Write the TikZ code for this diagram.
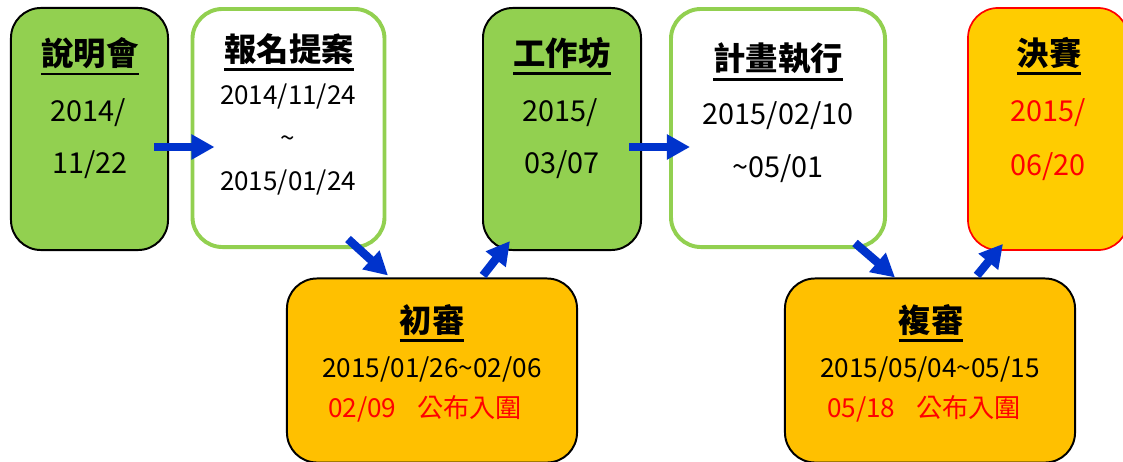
\documentclass[tikz,border=0pt]{standalone}
\usepackage{fontspec}
\setmainfont{Noto Sans CJK TC}
\usetikzlibrary{arrows.meta}
\definecolor{boxgreen}{HTML}{92D050}
\definecolor{boxorange}{HTML}{FFC000}
\definecolor{boxyellow}{HTML}{FFCC00}
\definecolor{arrowblue}{HTML}{0033CC}
\newcommand\heading[1]{\vtop{\hbox{\bfseries #1}\kern3pt\hrule height 2pt}}

\tikzset{
  stagebox/.style={rounded corners=0.75cm, inner sep=0pt, minimum height=6.05cm},
  greenbox/.style={stagebox, draw=black, line width=1.4pt, fill=boxgreen},
  whitebox/.style={stagebox, draw=boxgreen, line width=2.8pt, fill=white, minimum height=5.95cm},
  finalbox/.style={stagebox, draw=red, line width=1.2pt, fill=boxyellow},
  reviewbox/.style={rounded corners=0.75cm, inner sep=0pt, draw=black, line width=1.4pt,
    fill=boxorange, minimum width=7.25cm, minimum height=4.6cm},
  flow/.style={-{Triangle[length=0.58cm,width=0.6cm]}, draw=arrowblue, line width=0.21cm},
  title/.style={anchor=base, inner sep=0pt, font=\fontsize{23}{27}\selectfont},
  datebig/.style={anchor=base, inner sep=0pt, font=\fontsize{20.5}{24}\selectfont},
  datesmall/.style={anchor=base, inner sep=0pt, font=\fontsize{18.5}{22}\selectfont},
  datewide/.style={anchor=base, inner sep=0pt, font=\fontsize{18.6}{22}\selectfont}
}

\begin{document}
\begin{tikzpicture}[x=0.025cm,y=-0.025cm]
\useasboundingbox (0,0) rectangle (1123,461);

\node [greenbox, minimum width=3.925cm] (briefing) at (89.5,129) {};
\node [whitebox, minimum width=4.8cm] (signup) at (288.5,128) {};
\node [greenbox, minimum width=3.95cm] (workshop) at (562,129) {};
\node [whitebox, minimum width=5.35cm] (execute) at (778,128) {};
\node [finalbox, minimum width=4cm] (final) at (1048,129) {};
\node [reviewbox] (first) at (432,370.5) {};
\node [reviewbox] (second) at (930,370.5) {};

\node [title] (briefing-t) at (90,65) {\heading{說明會}};
\node [datebig] (briefing-d1) at (88,121) {2014/};
\node [datebig] (briefing-d2) at (90,173) {11/22};

\node [title] (signup-t) at (289,61) {\heading{報名提案}};
\node [datesmall] (signup-d1) at (288,104) {2014/11/24};
\node [datesmall] (signup-d2) at (288,147) {\textasciitilde};
\node [datesmall] (signup-d3) at (288,190) {2015/01/24};

\node [title] (workshop-t) at (562,65) {\heading{工作坊}};
\node [datebig] (workshop-d1) at (560,121) {2015/};
\node [datebig] (workshop-d2) at (562,173) {03/07};

\node [title] (execute-t) at (778,70) {\heading{計畫執行}};
\node [datebig] (execute-d1) at (778,124) {2015/02/10};
\node [datebig] (execute-d2) at (778,177) {\textasciitilde05/01};

\node [title] (final-t) at (1049,65) {\heading{決賽}};
\node [datebig, text=red] (final-d1) at (1048,121) {2015/};
\node [datebig, text=red] (final-d2) at (1048,175) {06/20};

\node [title] (first-t) at (432,332) {\heading{初審}};
\node [datewide] (first-d) at (432,377) {2015/01/26\textasciitilde02/06};
\node [datewide, text=red] (first-n) at (425,417) {02/09\hspace{0.8em}公布入圍};

\node [title] (second-t) at (931,332) {\heading{複審}};
\node [datewide] (second-d) at (930,377) {2015/05/04\textasciitilde05/15};
\node [datewide, text=red] (second-n) at (924,417) {05/18\hspace{0.8em}公布入圍};

\draw [flow] ([shift={(-15,18)}]briefing.east) -- ([shift={(24,19)}]signup.west);
\draw [flow] ([shift={(59.5,-10)}]signup.south) -- ([shift={(-44,-2)}]first.north);
\draw [flow] ([shift={(51,-2)}]first.north) -- ([shift={(-52,-10)}]workshop.south);
\draw [flow] ([shift={(-13,18)}]workshop.east) -- ([shift={(21,19)}]execute.west);
\draw [flow] ([shift={(77,-6)}]execute.south) -- ([shift={(-35,0)}]second.north);
\draw [flow] ([shift={(47,-2)}]second.north) -- ([shift={(-45,-7)}]final.south);
\end{tikzpicture}
\end{document}
